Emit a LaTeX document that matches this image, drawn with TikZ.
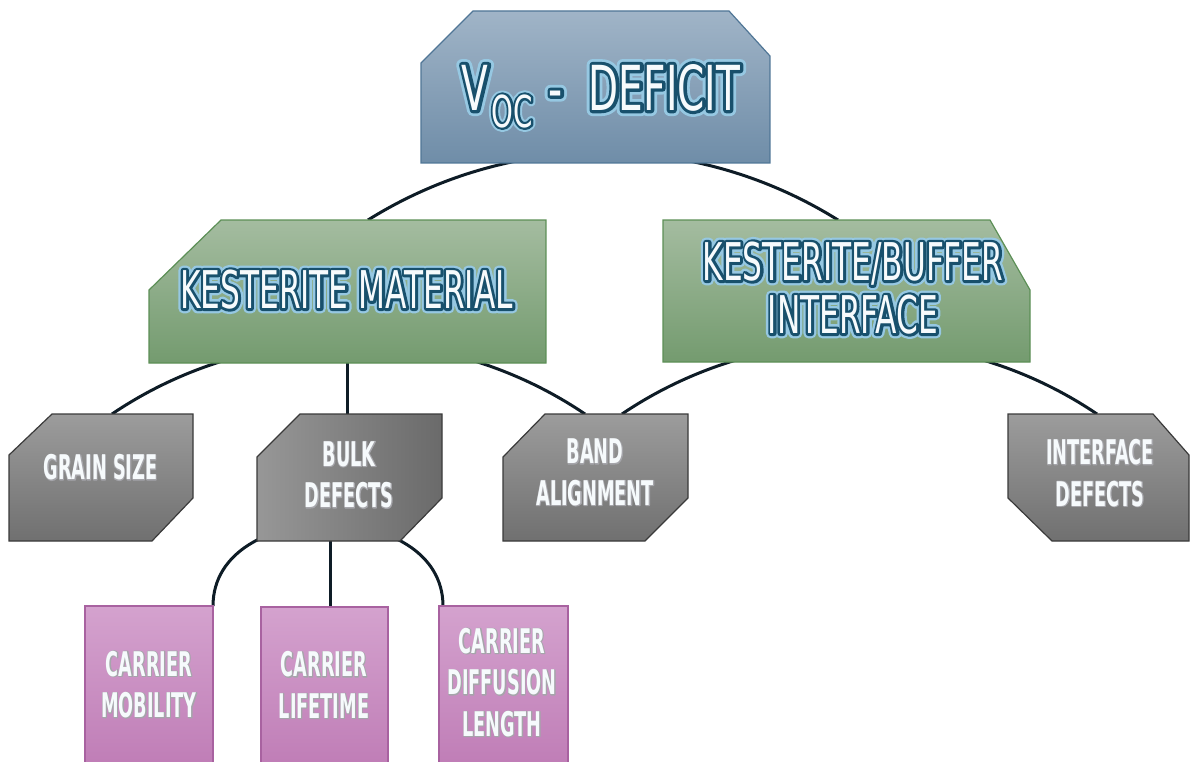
\documentclass[tikz,border=0pt]{standalone}
\usepackage{fontspec}
\usetikzlibrary{calc,backgrounds}

% narrow display faces (white letters) and fattened copies of them (outline and halo)
\newfontfamily\agThin[FakeStretch=0.60]{DejaVu Sans}
\newfontfamily\agThinEdge[FakeStretch=0.60,FakeBold=10]{DejaVu Sans}
\newfontfamily\agThinGlow[FakeStretch=0.60,FakeBold=19]{DejaVu Sans}
\newfontfamily\agWide[FakeStretch=0.63]{DejaVu Sans}
\newfontfamily\agWideEdge[FakeStretch=0.63,FakeBold=10]{DejaVu Sans}
\newfontfamily\agWideGlow[FakeStretch=0.63,FakeBold=19]{DejaVu Sans}
\newfontfamily\agBold[FakeStretch=0.52]{DejaVu Sans Bold}
\newfontfamily\agBoldEdge[FakeStretch=0.52,FakeBold=4]{DejaVu Sans Bold}

\definecolor{voctop}{RGB}{160,180,199}
\definecolor{vocbot}{RGB}{111,141,168}
\definecolor{vocline}{RGB}{80,118,150}
\definecolor{greentop}{RGB}{164,188,160}
\definecolor{greenbot}{RGB}{116,155,111}
\definecolor{greenline}{RGB}{92,143,86}
\definecolor{greytop}{RGB}{156,156,156}
\definecolor{greybot}{RGB}{112,112,112}
\definecolor{greyline}{RGB}{58,58,58}
\definecolor{pinktop}{RGB}{212,162,206}
\definecolor{pinkbot}{RGB}{192,126,183}
\definecolor{pinkline}{RGB}{168,98,160}
\definecolor{wirecol}{RGB}{14,28,38}
\definecolor{edgeteal}{RGB}{24,80,108}
\definecolor{glowblue}{RGB}{150,200,226}
\definecolor{edgegrey}{RGB}{165,165,170}
\definecolor{textwhite}{RGB}{246,250,252}

% white text laid over fattened coloured copies of itself (round joins on the strokes)
\newcommand\roundjoin{\special{pdf:code 1 j}}
\newcommand\outlined[4]{\rlap{\roundjoin#1\color{#3}#4}{#2\color{textwhite}#4}}
\newcommand\haloed[6]{\rlap{\roundjoin#1\color{#4}#6}\rlap{\roundjoin#2\color{#5}#6}{#3\color{textwhite}#6}}
\newcommand\crowntext[1]{\haloed{\agWideGlow}{\agWideEdge}{\agWide}{glowblue}{edgeteal}{#1}}
\newcommand\tealtext[1]{\haloed{\agThinGlow}{\agThinEdge}{\agThin}{glowblue}{edgeteal}{#1}}
\newcommand\chiptext[1]{\outlined{\agBoldEdge}{\agBold}{edgegrey}{#1}}

\begin{document}
\begin{tikzpicture}[x=1pt,y=-1pt,
  box/.style={rectangle,draw=none,inner sep=0pt,outer sep=0pt},
  lbl/.style={inner sep=0pt,outer sep=0pt,align=center},
  wire/.style={draw=wirecol,line width=3pt},
  crownbox/.style={draw=vocline,line width=1.2pt,top color=voctop,bottom color=vocbot},
  greenbox/.style={draw=greenline,line width=1.2pt,top color=greentop,bottom color=greenbot},
  greybox/.style={draw=greyline,line width=1.2pt,top color=greytop,bottom color=greybot},
  pinkfill/.style={top color=pinktop,bottom color=pinkbot},
  pinkedge/.style={draw=pinkline,line width=1.2pt},
  crownfont/.style={font=\fontsize{62}{62}\selectfont},
  greenfont/.style={font=\fontsize{52}{53}\selectfont},
  chipfont/.style={font=\fontsize{34}{41.5}\selectfont}]
\useasboundingbox (0,0) rectangle (1190,762);

% box frames
\node[box,minimum width=349pt,minimum height=152pt] (voc)  at (595.5,87)    {};
\node[box,minimum width=397pt,minimum height=143pt] (kmat) at (347.5,291.5) {};
\node[box,minimum width=367pt,minimum height=142pt] (kbi)  at (846.5,291)   {};
\node[box,minimum width=184pt,minimum height=127pt] (grain) at (101,477.5)  {};
\node[box,minimum width=185pt,minimum height=127pt] (bulk) at (349.5,477.5) {};
\node[box,minimum width=185pt,minimum height=127pt] (band) at (595.5,477.5) {};
\node[box,minimum width=181pt,minimum height=127pt] (idef) at (1098.5,477.5) {};
\node[box,minimum width=128pt,minimum height=156pt] (mob)  at (149,684)     {};
\node[box,minimum width=127pt,minimum height=155pt] (life) at (324.5,684.5) {};
\node[box,minimum width=129pt,minimum height=156pt] (dif)  at (503.5,684)   {};

% labels
\node[lbl,crownfont] (voc-t) at (601,96)
  {\crowntext{V\hspace{3pt}\raisebox{-17pt}{\fontsize{44}{44}\selectfont OC}\hspace{16pt}-\hspace{26pt}DEFICIT}};
\node[lbl,greenfont] (kmat-t) at (346.5,289.5) {\tealtext{KESTERITE MATERIAL}};
\node[lbl,greenfont] (kbi-t) at (853,288) {\tealtext{KESTERITE/BUFFER}\\\tealtext{INTERFACE}};
\node[lbl,chipfont] (grain-t) at (100.5,467.5) {\chiptext{GRAIN SIZE}};
\node[lbl,chipfont] (bulk-t) at (349,475) {\chiptext{BULK}\\\chiptext{DEFECTS}};
\node[lbl,chipfont] (band-t) at (595,472.5) {\chiptext{BAND}\\\chiptext{ALIGNMENT}};
\node[lbl,chipfont] (idef-t) at (1100,473) {\chiptext{INTERFACE}\\\chiptext{DEFECTS}};
\node[lbl,chipfont] (mob-t) at (149,684.5) {\chiptext{CARRIER}\\\chiptext{MOBILITY}};
\node[lbl,chipfont] (life-t) at (324,685) {\chiptext{CARRIER}\\\chiptext{LIFETIME}};
\node[lbl,chipfont] (dif-t) at (502,682.5) {\chiptext{CARRIER}\\\chiptext{DIFFUSION}\\\chiptext{LENGTH}};

\coordinate (lifetop) at ($(life.north)+(5.5,0)$);

\begin{scope}[on background layer]
  % connectors, partly hidden behind the boxes
  \draw[wire] ($(kmat.north west)+(219,0)$) .. controls +(144,-90) and +(-144,-90) .. ($(kbi.north west)+(175,0)$);
  \draw[wire] ($(grain.north west)+(103,0)$) .. controls +(142,-96) and +(-142,-96) .. ($(band.north west)+(82,0)$);
  \draw[wire] ($(band.north west)+(119,0)$) .. controls +(142,-96) and +(-142,-96) .. ($(idef.north west)+(89,0)$);
  \draw[wire] (kmat.south) -- (kmat.south |- bulk.north);
  \draw[wire] (mob.north east) .. controls +(0,-109) and +(0,-109) .. ($(dif.north west)+(4,0)$);
  \draw[wire] (lifetop) -- (lifetop |- bulk.south);

  % chamfered boxes
  \path[crownbox] ($(voc.north west)+(0,52)$) -- ($(voc.north west)+(52,0)$) -- ($(voc.north east)+(-41,0)$)
    -- ($(voc.north east)+(0,45)$) -- (voc.south east) -- (voc.south west) -- cycle;
  \path[greenbox] ($(kmat.north west)+(0,70)$) -- ($(kmat.north west)+(72,0)$) -- (kmat.north east)
    -- (kmat.south east) -- (kmat.south west) -- cycle;
  \path[greenbox] (kbi.north west) -- ($(kbi.north east)+(-40,0)$) -- ($(kbi.north east)+(0,70)$)
    -- (kbi.south east) -- (kbi.south west) -- cycle;
  \path[greybox] ($(grain.north west)+(0,41)$) -- ($(grain.north west)+(43,0)$) -- (grain.north east)
    -- ($(grain.south east)+(0,-43)$) -- ($(grain.south east)+(-41,0)$) -- (grain.south west) -- cycle;
  \path[greybox,left color=greytop!105,right color=greybot!95!black] ($(bulk.north west)+(0,43)$) -- ($(bulk.north west)+(43,0)$) -- (bulk.north east)
    -- ($(bulk.south east)+(0,-43)$) -- ($(bulk.south east)+(-42,0)$) -- (bulk.south west) -- cycle;
  \path[greybox] ($(band.north west)+(0,43)$) -- ($(band.north west)+(42,0)$) -- (band.north east)
    -- ($(band.south east)+(0,-43)$) -- ($(band.south east)+(-43,0)$) -- (band.south west) -- cycle;
  \path[greybox] (idef.north west) -- ($(idef.north east)+(-36,0)$) -- ($(idef.north east)+(0,41)$)
    -- (idef.south east) -- ($(idef.south west)+(44,0)$) -- ($(idef.south west)+(0,-43)$) -- cycle;
  \foreach \p in {mob,life,dif}{
    \path[pinkfill] (\p.north west) rectangle (\p.south east);
    \draw[pinkedge] (\p.south west) -- (\p.north west) -- (\p.north east) -- (\p.south east);
  }
\end{scope}
\end{tikzpicture}
\end{document}
